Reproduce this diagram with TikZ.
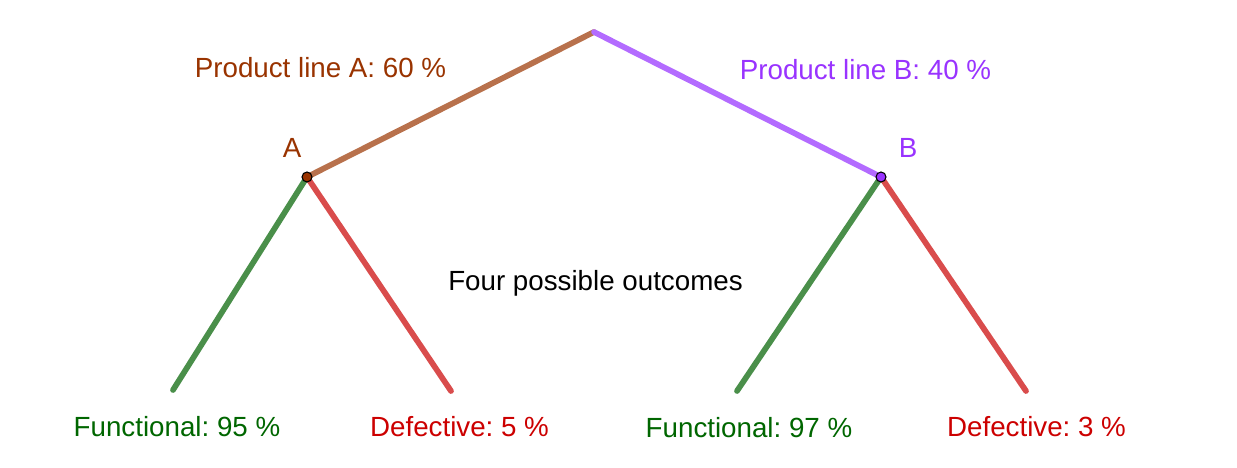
\documentclass[tikz,border=0pt]{standalone}
\usepackage{fontspec}
\setmainfont{Liberation Sans}
\frenchspacing
\definecolor{brtext}{HTML}{993300}
\definecolor{brline}{HTML}{B8714C}
\definecolor{putext}{HTML}{9933FF}
\definecolor{puline}{HTML}{B36BFF}
\definecolor{grtext}{HTML}{006600}
\definecolor{grline}{HTML}{4A8F4A}
\definecolor{rdtext}{HTML}{CC0000}
\definecolor{rdline}{HTML}{D94C4C}
\tikzset{
  branch/.style={line width=4.3pt, line cap=round},
  lbl/.style={font=\fontsize{20.8}{24}\selectfont, inner sep=0pt, anchor=center},
  pt/.style={circle, draw=black, line width=0.8pt, minimum size=7.5pt, inner sep=0pt}
}
\begin{document}
\begin{tikzpicture}[x=0.75pt,y=0.75pt]
\useasboundingbox (0,0) rectangle (1237,467);
\coordinate (top) at (594,435);
\coordinate (A) at (307,290);
\coordinate (B) at (881,290);
\coordinate (AL) at (173,77);
\coordinate (AR) at (451,76);
\coordinate (BL) at (737,76);
\coordinate (BR) at (1026,76);
\draw[branch, brline] (A) -- (top);
\draw[branch, puline] (top) -- (B);
\draw[branch, grline] (A) -- (AL);
\draw[branch, rdline] (A) -- (AR);
\draw[branch, grline] (B) -- (BL);
\draw[branch, rdline] (B) -- (BR);
\node[pt, fill=brtext] (pA) at (A) {};
\node[pt, fill=putext] (pB) at (B) {};
\node[lbl, text=brtext] (lA) at (292,319) {A};
\node[lbl, text=putext] (lB) at (908,319) {B};
\node[lbl, text=brtext] (la) at (320.5,399.5) {Product line A: 60 \%};
\node[lbl, text=putext] (lb) at (865.5,397.5) {Product line B: 40 \%};
\node[lbl, text=black] (four) at (595.5,184) {Four possible outcomes};
\node[lbl, text=grtext] (f1) at (177,40.5) {Functional: 95 \%};
\node[lbl, text=rdtext] (d1) at (459.5,40.5) {Defective: 5 \%};
\node[lbl, text=grtext] (f2) at (749,39.5) {Functional: 97 \%};
\node[lbl, text=rdtext] (d2) at (1036.5,40.5) {Defective: 3 \%};
\end{tikzpicture}
\end{document}
